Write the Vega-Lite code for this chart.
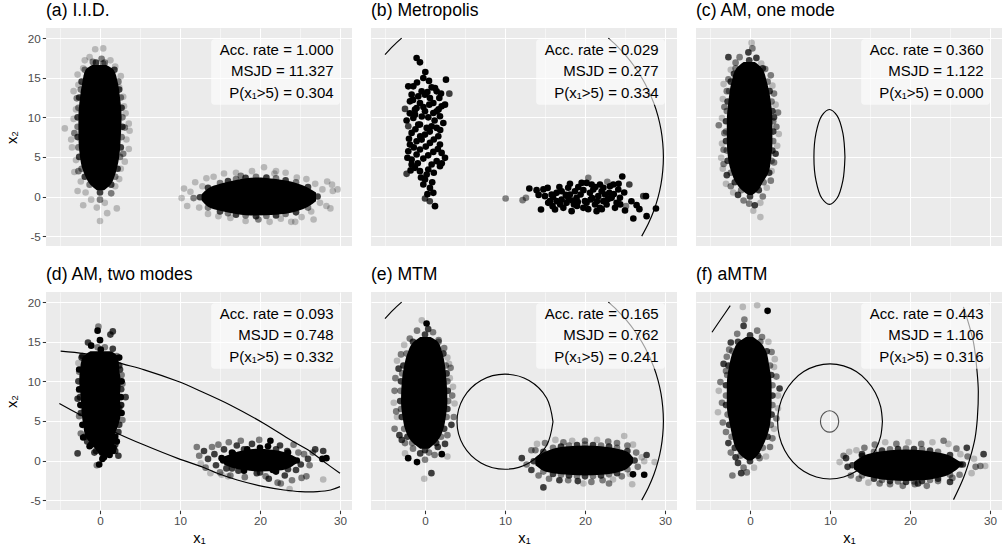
{
"$schema": "https://vega.github.io/schema/vega-lite/v6.json",
"padding": {"left": 4, "top": 2, "right": 0, "bottom": 0},
"background": "white",
"config": {"font": "Liberation Sans", "view": {"fill": "#EBEBEB", "stroke": null}},
"data": {"values": [
{"p":"a","k":"v","y":0.8,"lo":-0.4,"hi":0.5},{"p":"a","k":"v","y":1.5,"lo":-1.2,"hi":1.3},{"p":"a","k":"v","y":2.5,"lo":-1.8,"hi":1.8},{"p":"a","k":"v","y":3.5,"lo":-2.2,"hi":2.1},{"p":"a","k":"v","y":5.0,"lo":-2.5,"hi":2.4},{"p":"a","k":"v","y":7.5,"lo":-2.7,"hi":2.6},{"p":"a","k":"v","y":10.0,"lo":-2.7,"hi":2.7},{"p":"a","k":"v","y":12.5,"lo":-2.5,"hi":2.5},{"p":"a","k":"v","y":14.5,"lo":-2.2,"hi":2.2},{"p":"a","k":"v","y":16.0,"lo":-1.8,"hi":1.7},{"p":"a","k":"v","y":16.6,"lo":-1.0,"hi":0.8},
{"p":"a","k":"h","x":12.7,"lo":-0.5,"hi":0.3},{"p":"a","k":"h","x":13.5,"lo":-1.3,"hi":1.0},{"p":"a","k":"h","x":15.0,"lo":-1.8,"hi":1.6},{"p":"a","k":"h","x":17.0,"lo":-2.2,"hi":2.1},{"p":"a","k":"h","x":19.5,"lo":-2.4,"hi":2.4},{"p":"a","k":"h","x":22.0,"lo":-2.3,"hi":2.2},{"p":"a","k":"h","x":24.5,"lo":-1.9,"hi":1.7},{"p":"a","k":"h","x":26.0,"lo":-1.3,"hi":1.1},{"p":"a","k":"h","x":27.0,"lo":-0.6,"hi":0.5},
{"p":"c","k":"v","y":0.2,"lo":-0.2,"hi":0.3},{"p":"c","k":"v","y":0.8,"lo":-1.0,"hi":1.0},{"p":"c","k":"v","y":1.8,"lo":-1.8,"hi":1.6},{"p":"c","k":"v","y":3.0,"lo":-2.3,"hi":2.3},{"p":"c","k":"v","y":4.5,"lo":-2.7,"hi":2.6},{"p":"c","k":"v","y":7.0,"lo":-2.9,"hi":2.8},{"p":"c","k":"v","y":9.5,"lo":-2.9,"hi":2.8},{"p":"c","k":"v","y":12.0,"lo":-2.7,"hi":2.6},{"p":"c","k":"v","y":14.5,"lo":-2.3,"hi":2.1},{"p":"c","k":"v","y":16.2,"lo":-1.7,"hi":1.5},{"p":"c","k":"v","y":17.0,"lo":-0.8,"hi":0.6},
{"p":"d","k":"v","y":0.6,"lo":0.0,"hi":1.0},{"p":"d","k":"v","y":1.2,"lo":-0.4,"hi":1.5},{"p":"d","k":"v","y":2.0,"lo":-1.0,"hi":1.8},{"p":"d","k":"v","y":3.0,"lo":-1.8,"hi":1.8},{"p":"d","k":"v","y":4.5,"lo":-2.1,"hi":2.3},{"p":"d","k":"v","y":6.0,"lo":-2.3,"hi":2.6},{"p":"d","k":"v","y":8.0,"lo":-2.4,"hi":2.5},{"p":"d","k":"v","y":10.0,"lo":-2.6,"hi":2.6},{"p":"d","k":"v","y":11.5,"lo":-2.5,"hi":2.4},{"p":"d","k":"v","y":13.0,"lo":-2.2,"hi":2.3},{"p":"d","k":"v","y":13.8,"lo":-1.2,"hi":1.4},
{"p":"d","k":"h","x":15.5,"lo":-0.5,"hi":0.5},{"p":"d","k":"h","x":16.5,"lo":-0.9,"hi":0.9},{"p":"d","k":"h","x":18.0,"lo":-1.2,"hi":1.3},{"p":"d","k":"h","x":20.0,"lo":-1.4,"hi":1.5},{"p":"d","k":"h","x":22.0,"lo":-1.3,"hi":1.3},{"p":"d","k":"h","x":23.5,"lo":-1.0,"hi":0.9},{"p":"d","k":"h","x":24.5,"lo":-0.4,"hi":0.4},
{"p":"e","k":"v","y":1.5,"lo":-0.6,"hi":0.5},{"p":"e","k":"v","y":2.2,"lo":-1.5,"hi":1.3},{"p":"e","k":"v","y":3.0,"lo":-2.1,"hi":1.9},{"p":"e","k":"v","y":4.0,"lo":-2.5,"hi":2.3},{"p":"e","k":"v","y":5.5,"lo":-2.8,"hi":2.6},{"p":"e","k":"v","y":7.5,"lo":-3.0,"hi":2.8},{"p":"e","k":"v","y":10.0,"lo":-2.9,"hi":2.7},{"p":"e","k":"v","y":12.0,"lo":-2.6,"hi":2.5},{"p":"e","k":"v","y":13.5,"lo":-2.2,"hi":2.2},{"p":"e","k":"v","y":15.0,"lo":-1.4,"hi":1.6},{"p":"e","k":"v","y":15.6,"lo":-0.6,"hi":0.7},
{"p":"e","k":"h","x":13.8,"lo":-0.6,"hi":0.4},{"p":"e","k":"h","x":14.8,"lo":-1.3,"hi":1.0},{"p":"e","k":"h","x":16.0,"lo":-1.6,"hi":1.5},{"p":"e","k":"h","x":18.0,"lo":-1.8,"hi":1.8},{"p":"e","k":"h","x":20.0,"lo":-1.9,"hi":1.9},{"p":"e","k":"h","x":22.0,"lo":-1.8,"hi":1.8},{"p":"e","k":"h","x":24.0,"lo":-1.5,"hi":1.5},{"p":"e","k":"h","x":25.3,"lo":-1.0,"hi":1.1},{"p":"e","k":"h","x":26.0,"lo":-0.3,"hi":0.4},
{"p":"f","k":"v","y":0.0,"lo":-0.3,"hi":0.2},{"p":"f","k":"v","y":0.6,"lo":-1.1,"hi":0.9},{"p":"f","k":"v","y":1.6,"lo":-1.8,"hi":1.5},{"p":"f","k":"v","y":3.0,"lo":-2.2,"hi":2.1},{"p":"f","k":"v","y":4.5,"lo":-2.5,"hi":2.5},{"p":"f","k":"v","y":7.0,"lo":-2.9,"hi":2.7},{"p":"f","k":"v","y":9.5,"lo":-2.9,"hi":2.7},{"p":"f","k":"v","y":12.0,"lo":-2.6,"hi":2.4},{"p":"f","k":"v","y":13.8,"lo":-2.1,"hi":2.0},{"p":"f","k":"v","y":15.0,"lo":-1.4,"hi":1.2},{"p":"f","k":"v","y":15.6,"lo":-0.5,"hi":0.4},
{"p":"f","k":"h","x":13.0,"lo":-1.1,"hi":-0.2},{"p":"f","k":"h","x":14.0,"lo":-1.8,"hi":0.5},{"p":"f","k":"h","x":15.5,"lo":-2.2,"hi":1.0},{"p":"f","k":"h","x":17.5,"lo":-2.5,"hi":1.3},{"p":"f","k":"h","x":19.5,"lo":-2.6,"hi":1.4},{"p":"f","k":"h","x":21.5,"lo":-2.5,"hi":1.3},{"p":"f","k":"h","x":23.5,"lo":-2.2,"hi":1.0},{"p":"f","k":"h","x":25.0,"lo":-1.7,"hi":0.6},{"p":"f","k":"h","x":26.0,"lo":-1.0,"hi":0.0},{"p":"f","k":"h","x":26.5,"lo":-0.5,"hi":-0.3},

{"p":"a","k":"p","x":0.0,"y":0.5,"r":3},{"p":"a","k":"p","x":-1.3,"y":1.5,"r":2},{"p":"a","k":"p","x":1.4,"y":1.5,"r":3},{"p":"a","k":"p","x":-1.9,"y":2.5,"r":3},{"p":"a","k":"p","x":1.9,"y":2.5,"r":2},{"p":"a","k":"p","x":-2.3,"y":3.5,"r":2},{"p":"a","k":"p","x":2.2,"y":3.5,"r":3},{"p":"a","k":"p","x":-2.6,"y":5.0,"r":3},{"p":"a","k":"p","x":2.5,"y":5.0,"r":2},{"p":"a","k":"p","x":-2.7,"y":6.2,"r":2},{"p":"a","k":"p","x":2.6,"y":6.2,"r":3},{"p":"a","k":"p","x":-2.8,"y":7.5,"r":3},{"p":"a","k":"p","x":2.7,"y":7.5,"r":2},{"p":"a","k":"p","x":-2.8,"y":8.8,"r":2},{"p":"a","k":"p","x":2.8,"y":8.8,"r":3},{"p":"a","k":"p","x":-2.8,"y":10.0,"r":3},{"p":"a","k":"p","x":2.8,"y":10.0,"r":2},{"p":"a","k":"p","x":-2.7,"y":11.2,"r":2},{"p":"a","k":"p","x":2.7,"y":11.2,"r":3},{"p":"a","k":"p","x":-2.6,"y":12.5,"r":3},{"p":"a","k":"p","x":2.6,"y":12.5,"r":2},{"p":"a","k":"p","x":-2.4,"y":13.5,"r":2},{"p":"a","k":"p","x":2.4,"y":13.5,"r":3},{"p":"a","k":"p","x":-2.3,"y":14.5,"r":3},{"p":"a","k":"p","x":2.3,"y":14.5,"r":2},{"p":"a","k":"p","x":-1.9,"y":16.0,"r":2},{"p":"a","k":"p","x":1.8,"y":16.0,"r":3},{"p":"a","k":"p","x":-0.5,"y":16.9,"r":3},{"p":"a","k":"p","x":0.4,"y":16.8,"r":2},
{"p":"a","k":"p","x":12.5,"y":-0.1,"r":3},{"p":"a","k":"p","x":13.5,"y":-1.4,"r":2},{"p":"a","k":"p","x":13.5,"y":1.1,"r":3},{"p":"a","k":"p","x":15.0,"y":-1.9,"r":3},{"p":"a","k":"p","x":15.0,"y":1.7,"r":2},{"p":"a","k":"p","x":16.0,"y":-2.1,"r":2},{"p":"a","k":"p","x":16.0,"y":1.95,"r":3},{"p":"a","k":"p","x":17.0,"y":-2.3,"r":3},{"p":"a","k":"p","x":17.0,"y":2.2,"r":2},{"p":"a","k":"p","x":18.2,"y":-2.4,"r":2},{"p":"a","k":"p","x":18.2,"y":2.35,"r":3},{"p":"a","k":"p","x":19.5,"y":-2.5,"r":3},{"p":"a","k":"p","x":19.5,"y":2.5,"r":2},{"p":"a","k":"p","x":20.8,"y":-2.45,"r":2},{"p":"a","k":"p","x":20.8,"y":2.4,"r":3},{"p":"a","k":"p","x":22.0,"y":-2.4,"r":3},{"p":"a","k":"p","x":22.0,"y":2.3,"r":2},{"p":"a","k":"p","x":23.2,"y":-2.2,"r":2},{"p":"a","k":"p","x":23.2,"y":2.05,"r":3},{"p":"a","k":"p","x":24.5,"y":-2.0,"r":3},{"p":"a","k":"p","x":24.5,"y":1.8,"r":2},{"p":"a","k":"p","x":26.0,"y":-1.4,"r":2},{"p":"a","k":"p","x":26.0,"y":1.2,"r":3},{"p":"a","k":"p","x":27.2,"y":0.0,"r":3},
{"p":"a","k":"p","x":-0.6,"y":18.6,"r":1},{"p":"a","k":"p","x":0.4,"y":18.7,"r":1},{"p":"a","k":"p","x":-1.3,"y":17.6,"r":1},{"p":"a","k":"p","x":0.2,"y":17.4,"r":2},{"p":"a","k":"p","x":1.3,"y":17.2,"r":1},{"p":"a","k":"p","x":-0.9,"y":17.0,"r":2},{"p":"a","k":"p","x":0.6,"y":16.9,"r":2},{"p":"a","k":"p","x":1.9,"y":16.4,"r":1},{"p":"a","k":"p","x":-2.1,"y":16.2,"r":1},{"p":"a","k":"p","x":-1.6,"y":15.3,"r":2},{"p":"a","k":"p","x":2.6,"y":15.2,"r":1},{"p":"a","k":"p","x":2.4,"y":13.8,"r":1},{"p":"a","k":"p","x":2.9,"y":12.6,"r":1},{"p":"a","k":"p","x":3.0,"y":11.4,"r":1},{"p":"a","k":"p","x":3.2,"y":10.5,"r":1},{"p":"a","k":"p","x":3.6,"y":9.2,"r":1},{"p":"a","k":"p","x":3.1,"y":8.7,"r":2},{"p":"a","k":"p","x":3.7,"y":8.3,"r":1},{"p":"a","k":"p","x":3.3,"y":7.2,"r":1},{"p":"a","k":"p","x":3.6,"y":6.0,"r":1},{"p":"a","k":"p","x":2.9,"y":5.4,"r":2},{"p":"a","k":"p","x":3.1,"y":4.4,"r":1},{"p":"a","k":"p","x":2.6,"y":3.5,"r":1},{"p":"a","k":"p","x":2.4,"y":2.2,"r":1},{"p":"a","k":"p","x":1.9,"y":1.3,"r":1},{"p":"a","k":"p","x":1.4,"y":0.4,"r":2},{"p":"a","k":"p","x":2.1,"y":-1.5,"r":1},{"p":"a","k":"p","x":0.9,"y":-2.1,"r":1},{"p":"a","k":"p","x":0.6,"y":-0.8,"r":1},{"p":"a","k":"p","x":0.0,"y":-0.4,"r":2},{"p":"a","k":"p","x":0.0,"y":-3.1,"r":1},{"p":"a","k":"p","x":-0.4,"y":-1.4,"r":1},{"p":"a","k":"p","x":-1.1,"y":-0.4,"r":1},{"p":"a","k":"p","x":-2.1,"y":-1.1,"r":1},{"p":"a","k":"p","x":-1.8,"y":0.5,"r":1},{"p":"a","k":"p","x":-2.8,"y":0.7,"r":1},{"p":"a","k":"p","x":-2.4,"y":1.9,"r":1},{"p":"a","k":"p","x":-3.2,"y":3.1,"r":1},{"p":"a","k":"p","x":-2.7,"y":3.2,"r":2},{"p":"a","k":"p","x":-3.0,"y":4.6,"r":1},{"p":"a","k":"p","x":-3.5,"y":6.2,"r":1},{"p":"a","k":"p","x":-3.6,"y":7.2,"r":1},{"p":"a","k":"p","x":-4.4,"y":8.6,"r":1},{"p":"a","k":"p","x":-3.2,"y":8.0,"r":2},{"p":"a","k":"p","x":-3.3,"y":9.8,"r":1},{"p":"a","k":"p","x":-3.0,"y":11.0,"r":1},{"p":"a","k":"p","x":-2.9,"y":12.4,"r":2},{"p":"a","k":"p","x":-3.3,"y":13.3,"r":1},{"p":"a","k":"p","x":-2.7,"y":14.1,"r":1},{"p":"a","k":"p","x":-2.8,"y":15.4,"r":1},{"p":"a","k":"p","x":-1.9,"y":17.2,"r":1},
{"p":"a","k":"p","x":10.2,"y":-0.2,"r":1},{"p":"a","k":"p","x":10.5,"y":1.0,"r":1},{"p":"a","k":"p","x":10.9,"y":-1.2,"r":1},{"p":"a","k":"p","x":11.3,"y":0.6,"r":1},{"p":"a","k":"p","x":11.7,"y":-0.2,"r":2},{"p":"a","k":"p","x":11.9,"y":1.8,"r":1},{"p":"a","k":"p","x":12.4,"y":-1.4,"r":1},{"p":"a","k":"p","x":12.8,"y":1.3,"r":1},{"p":"a","k":"p","x":13.3,"y":2.3,"r":1},{"p":"a","k":"p","x":13.5,"y":-2.2,"r":1},{"p":"a","k":"p","x":14.2,"y":2.5,"r":1},{"p":"a","k":"p","x":14.8,"y":-2.5,"r":1},{"p":"a","k":"p","x":15.5,"y":2.9,"r":1},{"p":"a","k":"p","x":16.3,"y":-2.7,"r":1},{"p":"a","k":"p","x":17.0,"y":3.0,"r":1},{"p":"a","k":"p","x":17.6,"y":2.6,"r":2},{"p":"a","k":"p","x":18.2,"y":-3.1,"r":1},{"p":"a","k":"p","x":19.0,"y":3.2,"r":1},{"p":"a","k":"p","x":19.8,"y":-2.9,"r":2},{"p":"a","k":"p","x":20.5,"y":3.7,"r":1},{"p":"a","k":"p","x":21.2,"y":-3.2,"r":1},{"p":"a","k":"p","x":21.8,"y":2.9,"r":1},{"p":"a","k":"p","x":22.6,"y":-2.8,"r":1},{"p":"a","k":"p","x":23.2,"y":3.0,"r":1},{"p":"a","k":"p","x":23.9,"y":-3.2,"r":1},{"p":"a","k":"p","x":24.6,"y":2.4,"r":1},{"p":"a","k":"p","x":25.2,"y":-2.6,"r":1},{"p":"a","k":"p","x":25.8,"y":2.2,"r":1},{"p":"a","k":"p","x":26.4,"y":-1.9,"r":1},{"p":"a","k":"p","x":26.9,"y":1.6,"r":1},{"p":"a","k":"p","x":27.5,"y":-0.8,"r":1},{"p":"a","k":"p","x":27.8,"y":0.9,"r":1},{"p":"a","k":"p","x":28.3,"y":-1.2,"r":1},{"p":"a","k":"p","x":28.4,"y":1.9,"r":1},{"p":"a","k":"p","x":29.1,"y":0.7,"r":1},{"p":"a","k":"p","x":29.0,"y":1.5,"r":1},{"p":"a","k":"p","x":29.7,"y":0.9,"r":1},{"p":"a","k":"p","x":28.8,"y":-1.5,"r":1},{"p":"a","k":"p","x":26.7,"y":-2.9,"r":1},{"p":"a","k":"p","x":24.4,"y":-3.2,"r":1},{"p":"a","k":"p","x":22.0,"y":3.2,"r":1},

{"p":"b","k":"p","x":-1.05,"y":17.49,"r":4},{"p":"b","k":"p","x":-0.63,"y":16.94,"r":4},{"p":"b","k":"p","x":0.04,"y":15.72,"r":4},{"p":"b","k":"p","x":-0.21,"y":14.97,"r":4},{"p":"b","k":"p","x":2.62,"y":14.76,"r":4},{"p":"b","k":"p","x":-2.09,"y":13.91,"r":4},{"p":"b","k":"p","x":-1.46,"y":13.91,"r":4},{"p":"b","k":"p","x":0.83,"y":13.79,"r":4},{"p":"b","k":"p","x":1.25,"y":13.7,"r":4},{"p":"b","k":"p","x":3.04,"y":12.99,"r":3},{"p":"b","k":"p","x":-1.67,"y":12.86,"r":4},{"p":"b","k":"p","x":-0.84,"y":12.65,"r":4},{"p":"b","k":"p","x":0.0,"y":12.86,"r":4},{"p":"b","k":"p","x":0.62,"y":12.44,"r":4},{"p":"b","k":"p","x":1.79,"y":12.44,"r":4},{"p":"b","k":"p","x":-1.88,"y":12.02,"r":4},{"p":"b","k":"p","x":-0.63,"y":11.81,"r":4},{"p":"b","k":"p","x":1.04,"y":11.81,"r":4},{"p":"b","k":"p","x":2.5,"y":11.6,"r":4},{"p":"b","k":"p","x":-2.5,"y":11.06,"r":3},{"p":"b","k":"p","x":-1.25,"y":10.97,"r":4},{"p":"b","k":"p","x":0.0,"y":10.76,"r":4},{"p":"b","k":"p","x":1.46,"y":10.76,"r":4},{"p":"b","k":"p","x":-1.46,"y":9.92,"r":4},{"p":"b","k":"p","x":0.41,"y":10.0,"r":4},{"p":"b","k":"p","x":1.87,"y":10.13,"r":4},{"p":"b","k":"p","x":-2.09,"y":8.87,"r":3},{"p":"b","k":"p","x":-0.63,"y":9.08,"r":4},{"p":"b","k":"p","x":0.83,"y":8.87,"r":4},{"p":"b","k":"p","x":2.29,"y":9.29,"r":4},{"p":"b","k":"p","x":-1.67,"y":8.03,"r":4},{"p":"b","k":"p","x":0.0,"y":7.82,"r":4},{"p":"b","k":"p","x":1.66,"y":7.61,"r":4},{"p":"b","k":"p","x":-1.05,"y":6.98,"r":4},{"p":"b","k":"p","x":0.62,"y":6.77,"r":4},{"p":"b","k":"p","x":1.87,"y":6.56,"r":4},{"p":"b","k":"p","x":-2.09,"y":5.72,"r":4},{"p":"b","k":"p","x":-0.63,"y":5.93,"r":4},{"p":"b","k":"p","x":1.04,"y":5.63,"r":4},{"p":"b","k":"p","x":2.5,"y":4.88,"r":4},{"p":"b","k":"p","x":-1.67,"y":4.67,"r":4},{"p":"b","k":"p","x":-0.21,"y":4.79,"r":4},{"p":"b","k":"p","x":1.46,"y":4.46,"r":4},{"p":"b","k":"p","x":-2.3,"y":2.86,"r":3},{"p":"b","k":"p","x":-1.25,"y":3.62,"r":4},{"p":"b","k":"p","x":0.41,"y":3.41,"r":4},{"p":"b","k":"p","x":1.87,"y":3.83,"r":4},{"p":"b","k":"p","x":0.0,"y":2.14,"r":4},{"p":"b","k":"p","x":0.62,"y":1.09,"r":4},{"p":"b","k":"p","x":1.04,"y":0.46,"r":4},{"p":"b","k":"p","x":0.0,"y":-0.25,"r":3},{"p":"b","k":"p","x":1.25,"y":-1.22,"r":4},{"p":"b","k":"p","x":-0.63,"y":3.2,"r":4},{"p":"b","k":"p","x":-1.05,"y":5.3,"r":4},{"p":"b","k":"p","x":0.21,"y":8.66,"r":4},{"p":"b","k":"p","x":-1.25,"y":10.34,"r":4},{"p":"b","k":"p","x":-0.42,"y":13.28,"r":4},{"p":"b","k":"p","x":1.46,"y":13.28,"r":4},{"p":"b","k":"p","x":2.08,"y":11.39,"r":4},{"p":"b","k":"p","x":-1.88,"y":6.56,"r":4},{"p":"b","k":"p","x":0.83,"y":4.04,"r":4},{"p":"b","k":"p","x":-0.21,"y":1.51,"r":4},{"p":"b","k":"p","x":0.21,"y":2.77,"r":4},{"p":"b","k":"p","x":-1.05,"y":11.18,"r":4},{"p":"b","k":"p","x":1.46,"y":8.66,"r":4},{"p":"b","k":"p","x":2.08,"y":5.51,"r":4},{"p":"b","k":"p","x":-1.67,"y":4.04,"r":4},{"p":"b","k":"p","x":-0.42,"y":7.19,"r":4},{"p":"b","k":"p","x":1.04,"y":10.55,"r":4},{"p":"b","k":"p","x":0.54,"y":11.6,"r":4},{"p":"b","k":"p","x":-0.84,"y":9.08,"r":4},
{"p":"b","k":"p","x":-1.5,"y":12.2,"r":4},{"p":"b","k":"p","x":0.3,"y":13.2,"r":4},{"p":"b","k":"p","x":-0.2,"y":11.3,"r":4},{"p":"b","k":"p","x":1.7,"y":11.0,"r":4},{"p":"b","k":"p","x":-1.9,"y":10.5,"r":4},{"p":"b","k":"p","x":-0.4,"y":10.1,"r":4},{"p":"b","k":"p","x":1.2,"y":9.6,"r":4},{"p":"b","k":"p","x":-1.2,"y":8.5,"r":4},{"p":"b","k":"p","x":0.6,"y":8.2,"r":4},{"p":"b","k":"p","x":1.9,"y":8.4,"r":4},{"p":"b","k":"p","x":-2.0,"y":7.3,"r":4},{"p":"b","k":"p","x":-0.6,"y":7.6,"r":4},{"p":"b","k":"p","x":1.1,"y":7.2,"r":4},{"p":"b","k":"p","x":-1.4,"y":6.2,"r":4},{"p":"b","k":"p","x":0.1,"y":6.3,"r":4},{"p":"b","k":"p","x":1.6,"y":6.0,"r":4},{"p":"b","k":"p","x":-2.2,"y":4.9,"r":4},{"p":"b","k":"p","x":0.4,"y":5.2,"r":4},{"p":"b","k":"p","x":2.1,"y":4.2,"r":4},{"p":"b","k":"p","x":-0.9,"y":4.2,"r":4},{"p":"b","k":"p","x":-1.8,"y":3.3,"r":4},{"p":"b","k":"p","x":1.1,"y":3.0,"r":4},{"p":"b","k":"p","x":-0.5,"y":2.4,"r":4},{"p":"b","k":"p","x":0.9,"y":1.8,"r":4},{"p":"b","k":"p","x":0.3,"y":0.3,"r":4},{"p":"b","k":"p","x":0.6,"y":-0.6,"r":3},{"p":"b","k":"p","x":-1.0,"y":14.4,"r":4},{"p":"b","k":"p","x":0.5,"y":14.6,"r":4},{"p":"b","k":"p","x":2.0,"y":13.0,"r":4},{"p":"b","k":"p","x":-2.3,"y":9.6,"r":4},
{"p":"b","k":"p","x":10.08,"y":-0.25,"r":2},{"p":"b","k":"p","x":12.2,"y":-0.46,"r":2},{"p":"b","k":"p","x":12.62,"y":-0.17,"r":2},{"p":"b","k":"p","x":13.04,"y":1.01,"r":4},{"p":"b","k":"p","x":13.95,"y":0.8,"r":4},{"p":"b","k":"p","x":14.5,"y":-1.64,"r":4},{"p":"b","k":"p","x":15.0,"y":0.04,"r":4},{"p":"b","k":"p","x":15.33,"y":1.09,"r":4},{"p":"b","k":"p","x":15.83,"y":0.25,"r":4},{"p":"b","k":"p","x":15.95,"y":-1.22,"r":4},{"p":"b","k":"p","x":16.45,"y":-0.59,"r":4},{"p":"b","k":"p","x":17.08,"y":0.67,"r":4},{"p":"b","k":"p","x":17.29,"y":-1.43,"r":4},{"p":"b","k":"p","x":17.91,"y":-0.17,"r":4},{"p":"b","k":"p","x":18.12,"y":1.6,"r":4},{"p":"b","k":"p","x":18.62,"y":-1.01,"r":4},{"p":"b","k":"p","x":19.16,"y":1.18,"r":4},{"p":"b","k":"p","x":19.45,"y":0.25,"r":4},{"p":"b","k":"p","x":19.79,"y":-1.43,"r":4},{"p":"b","k":"p","x":20.2,"y":1.72,"r":4},{"p":"b","k":"p","x":20.41,"y":2.36,"r":2},{"p":"b","k":"p","x":20.7,"y":-0.38,"r":4},{"p":"b","k":"p","x":21.04,"y":0.88,"r":4},{"p":"b","k":"p","x":21.45,"y":-1.85,"r":4},{"p":"b","k":"p","x":21.87,"y":1.51,"r":4},{"p":"b","k":"p","x":22.29,"y":-0.59,"r":4},{"p":"b","k":"p","x":22.79,"y":1.85,"r":2},{"p":"b","k":"p","x":23.04,"y":0.46,"r":4},{"p":"b","k":"p","x":23.54,"y":1.51,"r":4},{"p":"b","k":"p","x":23.75,"y":-1.43,"r":4},{"p":"b","k":"p","x":24.16,"y":0.88,"r":4},{"p":"b","k":"p","x":24.66,"y":2.52,"r":4},{"p":"b","k":"p","x":25.0,"y":-1.77,"r":4},{"p":"b","k":"p","x":25.12,"y":-1.22,"r":2},{"p":"b","k":"p","x":25.54,"y":1.51,"r":3},{"p":"b","k":"p","x":26.04,"y":-2.77,"r":4},{"p":"b","k":"p","x":26.45,"y":-1.09,"r":4},{"p":"b","k":"p","x":27.29,"y":0.04,"r":3},{"p":"b","k":"p","x":27.62,"y":0.04,"r":4},{"p":"b","k":"p","x":27.7,"y":-2.48,"r":4},{"p":"b","k":"p","x":28.87,"y":-1.51,"r":4},{"p":"b","k":"p","x":17.7,"y":-0.8,"r":4},{"p":"b","k":"p","x":18.95,"y":-0.17,"r":4},{"p":"b","k":"p","x":20.0,"y":-0.59,"r":4},{"p":"b","k":"p","x":20.62,"y":0.46,"r":4},{"p":"b","k":"p","x":21.66,"y":0.04,"r":4},{"p":"b","k":"p","x":22.7,"y":-1.01,"r":4},{"p":"b","k":"p","x":23.33,"y":-0.17,"r":4},{"p":"b","k":"p","x":23.95,"y":-0.8,"r":4},{"p":"b","k":"p","x":16.45,"y":0.46,"r":4},{"p":"b","k":"p","x":18.74,"y":0.67,"r":4},{"p":"b","k":"p","x":20.2,"y":-0.8,"r":4},{"p":"b","k":"p","x":22.08,"y":0.67,"r":4},{"p":"b","k":"p","x":16.25,"y":-1.64,"r":4},{"p":"b","k":"p","x":18.33,"y":-1.85,"r":4},{"p":"b","k":"p","x":21.25,"y":-1.01,"r":4},{"p":"b","k":"p","x":22.5,"y":0.25,"r":4},{"p":"b","k":"p","x":24.37,"y":-0.17,"r":4},{"p":"b","k":"p","x":17.08,"y":-0.38,"r":4},{"p":"b","k":"p","x":19.58,"y":1.72,"r":4},{"p":"b","k":"p","x":21.87,"y":-1.43,"r":4},{"p":"b","k":"p","x":23.12,"y":1.3,"r":4},{"p":"b","k":"p","x":15.62,"y":-0.59,"r":4},{"p":"b","k":"p","x":18.12,"y":0.25,"r":4},{"p":"b","k":"p","x":20.83,"y":1.51,"r":4},
{"p":"b","k":"p","x":14.2,"y":0.2,"r":4},{"p":"b","k":"p","x":15.4,"y":-0.8,"r":4},{"p":"b","k":"p","x":16.8,"y":1.2,"r":4},{"p":"b","k":"p","x":16.0,"y":-0.1,"r":4},{"p":"b","k":"p","x":17.6,"y":0.2,"r":4},{"p":"b","k":"p","x":18.4,"y":-0.5,"r":4},{"p":"b","k":"p","x":19.0,"y":-1.2,"r":4},{"p":"b","k":"p","x":19.8,"y":0.8,"r":4},{"p":"b","k":"p","x":20.4,"y":-1.6,"r":4},{"p":"b","k":"p","x":21.3,"y":1.2,"r":4},{"p":"b","k":"p","x":21.5,"y":-0.6,"r":4},{"p":"b","k":"p","x":22.3,"y":1.1,"r":4},{"p":"b","k":"p","x":22.9,"y":-0.3,"r":4},{"p":"b","k":"p","x":23.6,"y":0.3,"r":4},{"p":"b","k":"p","x":24.4,"y":-1.0,"r":4},{"p":"b","k":"p","x":24.9,"y":0.5,"r":4},{"p":"b","k":"p","x":25.8,"y":-0.6,"r":4},{"p":"b","k":"p","x":19.1,"y":-0.7,"r":4},{"p":"b","k":"p","x":20.9,"y":-0.2,"r":4},{"p":"b","k":"p","x":17.9,"y":1.1,"r":4},{"p":"b","k":"p","x":16.9,"y":-1.0,"r":4},{"p":"b","k":"p","x":22.1,"y":-1.6,"r":4},{"p":"b","k":"p","x":24.2,"y":1.6,"r":4},{"p":"b","k":"p","x":26.8,"y":-1.6,"r":4},{"p":"b","k":"p","x":14.8,"y":0.9,"r":4},

{"p":"c","k":"p","x":0.0,"y":0.0,"r":3},{"p":"c","k":"p","x":-1.1,"y":0.8,"r":2},{"p":"c","k":"p","x":1.1,"y":0.8,"r":3},{"p":"c","k":"p","x":-1.9,"y":1.8,"r":3},{"p":"c","k":"p","x":1.7,"y":1.8,"r":2},{"p":"c","k":"p","x":-2.4,"y":3.0,"r":2},{"p":"c","k":"p","x":2.4,"y":3.0,"r":3},{"p":"c","k":"p","x":-2.8,"y":4.5,"r":3},{"p":"c","k":"p","x":2.7,"y":4.5,"r":2},{"p":"c","k":"p","x":-2.9,"y":5.8,"r":2},{"p":"c","k":"p","x":2.8,"y":5.8,"r":3},{"p":"c","k":"p","x":-3.0,"y":7.0,"r":3},{"p":"c","k":"p","x":2.9,"y":7.0,"r":2},{"p":"c","k":"p","x":-3.0,"y":8.2,"r":2},{"p":"c","k":"p","x":2.9,"y":8.2,"r":3},{"p":"c","k":"p","x":-3.0,"y":9.5,"r":3},{"p":"c","k":"p","x":2.9,"y":9.5,"r":2},{"p":"c","k":"p","x":-2.9,"y":10.8,"r":2},{"p":"c","k":"p","x":2.8,"y":10.8,"r":3},{"p":"c","k":"p","x":-2.8,"y":12.0,"r":3},{"p":"c","k":"p","x":2.7,"y":12.0,"r":2},{"p":"c","k":"p","x":-2.6,"y":13.3,"r":2},{"p":"c","k":"p","x":2.45,"y":13.3,"r":3},{"p":"c","k":"p","x":-2.4,"y":14.5,"r":3},{"p":"c","k":"p","x":2.2,"y":14.5,"r":2},{"p":"c","k":"p","x":-1.8,"y":16.2,"r":2},{"p":"c","k":"p","x":1.6,"y":16.2,"r":3},{"p":"c","k":"p","x":-0.1,"y":17.2,"r":3},
{"p":"c","k":"p","x":0.2,"y":19.4,"r":1},{"p":"c","k":"p","x":0.3,"y":18.7,"r":2},{"p":"c","k":"p","x":-0.2,"y":18.2,"r":3},{"p":"c","k":"p","x":-1.3,"y":17.6,"r":2},{"p":"c","k":"p","x":0.8,"y":17.5,"r":3},{"p":"c","k":"p","x":-2.7,"y":17.6,"r":3},{"p":"c","k":"p","x":-1.8,"y":16.9,"r":2},{"p":"c","k":"p","x":1.4,"y":16.8,"r":1},{"p":"c","k":"p","x":1.9,"y":16.1,"r":2},{"p":"c","k":"p","x":-2.4,"y":16.0,"r":1},{"p":"c","k":"p","x":-2.0,"y":15.5,"r":3},{"p":"c","k":"p","x":2.6,"y":15.3,"r":2},{"p":"c","k":"p","x":2.8,"y":14.0,"r":1},{"p":"c","k":"p","x":3.0,"y":13.0,"r":2},{"p":"c","k":"p","x":3.2,"y":11.6,"r":1},{"p":"c","k":"p","x":3.5,"y":10.6,"r":2},{"p":"c","k":"p","x":3.0,"y":10.0,"r":3},{"p":"c","k":"p","x":3.6,"y":7.9,"r":1},{"p":"c","k":"p","x":3.3,"y":8.8,"r":2},{"p":"c","k":"p","x":3.4,"y":6.4,"r":1},{"p":"c","k":"p","x":3.2,"y":5.4,"r":3},{"p":"c","k":"p","x":3.0,"y":4.3,"r":2},{"p":"c","k":"p","x":2.7,"y":3.2,"r":1},{"p":"c","k":"p","x":2.6,"y":2.0,"r":2},{"p":"c","k":"p","x":2.1,"y":1.1,"r":1},{"p":"c","k":"p","x":1.6,"y":0.0,"r":2},{"p":"c","k":"p","x":1.3,"y":-0.8,"r":1},{"p":"c","k":"p","x":1.3,"y":-2.6,"r":1},{"p":"c","k":"p","x":0.4,"y":-1.8,"r":1},{"p":"c","k":"p","x":0.6,"y":-1.1,"r":3},{"p":"c","k":"p","x":-0.1,"y":-0.9,"r":2},{"p":"c","k":"p","x":-0.8,"y":-0.5,"r":2},{"p":"c","k":"p","x":-1.5,"y":0.2,"r":3},{"p":"c","k":"p","x":-2.1,"y":0.5,"r":1},{"p":"c","k":"p","x":-2.4,"y":1.3,"r":2},{"p":"c","k":"p","x":-3.0,"y":1.6,"r":1},{"p":"c","k":"p","x":-2.9,"y":2.7,"r":3},{"p":"c","k":"p","x":-3.4,"y":3.5,"r":1},{"p":"c","k":"p","x":-3.3,"y":4.1,"r":2},{"p":"c","k":"p","x":-3.6,"y":4.9,"r":1},{"p":"c","k":"p","x":-3.3,"y":5.9,"r":2},{"p":"c","k":"p","x":-3.5,"y":6.7,"r":1},{"p":"c","k":"p","x":-3.2,"y":8.0,"r":2},{"p":"c","k":"p","x":-3.9,"y":9.0,"r":2},{"p":"c","k":"p","x":-3.5,"y":9.9,"r":1},{"p":"c","k":"p","x":-3.2,"y":11.3,"r":2},{"p":"c","k":"p","x":-3.4,"y":12.3,"r":1},{"p":"c","k":"p","x":-2.9,"y":13.3,"r":2},{"p":"c","k":"p","x":-3.3,"y":14.2,"r":1},{"p":"c","k":"p","x":-2.7,"y":14.8,"r":2},

{"p":"d","k":"p","x":0.5,"y":0.4,"r":4},{"p":"d","k":"p","x":-0.5,"y":1.2,"r":3},{"p":"d","k":"p","x":1.6,"y":1.2,"r":4},{"p":"d","k":"p","x":-1.1,"y":2.0,"r":4},{"p":"d","k":"p","x":1.9,"y":2.0,"r":3},{"p":"d","k":"p","x":-1.9,"y":3.0,"r":3},{"p":"d","k":"p","x":1.9,"y":3.0,"r":4},{"p":"d","k":"p","x":-2.2,"y":4.5,"r":4},{"p":"d","k":"p","x":2.4,"y":4.5,"r":3},{"p":"d","k":"p","x":-2.4,"y":6.0,"r":3},{"p":"d","k":"p","x":2.7,"y":6.0,"r":4},{"p":"d","k":"p","x":-2.45,"y":7.0,"r":4},{"p":"d","k":"p","x":2.65,"y":7.0,"r":3},{"p":"d","k":"p","x":-2.5,"y":8.0,"r":3},{"p":"d","k":"p","x":2.6,"y":8.0,"r":4},{"p":"d","k":"p","x":-2.6,"y":9.0,"r":4},{"p":"d","k":"p","x":2.65,"y":9.0,"r":3},{"p":"d","k":"p","x":-2.7,"y":10.0,"r":3},{"p":"d","k":"p","x":2.7,"y":10.0,"r":4},{"p":"d","k":"p","x":-2.6,"y":11.5,"r":4},{"p":"d","k":"p","x":2.5,"y":11.5,"r":3},{"p":"d","k":"p","x":-2.3,"y":13.0,"r":3},{"p":"d","k":"p","x":2.4,"y":13.0,"r":4},{"p":"d","k":"p","x":0.1,"y":14.0,"r":4},
{"p":"d","k":"p","x":15.4,"y":0.0,"r":4},{"p":"d","k":"p","x":16.5,"y":-1.0,"r":3},{"p":"d","k":"p","x":16.5,"y":1.0,"r":4},{"p":"d","k":"p","x":18.0,"y":-1.3,"r":4},{"p":"d","k":"p","x":18.0,"y":1.4,"r":3},{"p":"d","k":"p","x":20.0,"y":-1.5,"r":3},{"p":"d","k":"p","x":20.0,"y":1.6,"r":4},{"p":"d","k":"p","x":22.0,"y":-1.4,"r":4},{"p":"d","k":"p","x":22.0,"y":1.4,"r":3},{"p":"d","k":"p","x":23.5,"y":-1.1,"r":3},{"p":"d","k":"p","x":23.5,"y":1.0,"r":4},{"p":"d","k":"p","x":24.6,"y":0.0,"r":4},
{"p":"d","k":"p","x":-0.2,"y":16.9,"r":2},{"p":"d","k":"p","x":-0.3,"y":16.4,"r":4},{"p":"d","k":"p","x":1.6,"y":16.3,"r":3},{"p":"d","k":"p","x":1.3,"y":15.9,"r":3},{"p":"d","k":"p","x":0.0,"y":15.2,"r":4},{"p":"d","k":"p","x":-1.5,"y":14.9,"r":3},{"p":"d","k":"p","x":-1.1,"y":14.5,"r":4},{"p":"d","k":"p","x":-0.3,"y":14.3,"r":2},{"p":"d","k":"p","x":0.6,"y":14.3,"r":2},{"p":"d","k":"p","x":1.6,"y":14.1,"r":3},{"p":"d","k":"p","x":-2.2,"y":13.2,"r":3},{"p":"d","k":"p","x":2.1,"y":13.2,"r":2},{"p":"d","k":"p","x":2.4,"y":12.0,"r":3},{"p":"d","k":"p","x":-2.7,"y":12.3,"r":1},{"p":"d","k":"p","x":-2.6,"y":11.2,"r":2},{"p":"d","k":"p","x":2.7,"y":10.8,"r":2},{"p":"d","k":"p","x":2.8,"y":9.7,"r":2},{"p":"d","k":"p","x":3.2,"y":8.0,"r":3},{"p":"d","k":"p","x":-2.8,"y":7.8,"r":3},{"p":"d","k":"p","x":-2.6,"y":8.9,"r":2},{"p":"d","k":"p","x":2.6,"y":7.0,"r":2},{"p":"d","k":"p","x":2.4,"y":6.6,"r":3},{"p":"d","k":"p","x":2.8,"y":5.1,"r":2},{"p":"d","k":"p","x":-2.6,"y":5.6,"r":2},{"p":"d","k":"p","x":-2.4,"y":3.4,"r":2},{"p":"d","k":"p","x":-1.6,"y":2.4,"r":3},{"p":"d","k":"p","x":-2.1,"y":2.9,"r":4},{"p":"d","k":"p","x":2.3,"y":3.6,"r":3},{"p":"d","k":"p","x":2.1,"y":2.4,"r":4},{"p":"d","k":"p","x":1.9,"y":1.2,"r":3},{"p":"d","k":"p","x":1.2,"y":0.7,"r":4},{"p":"d","k":"p","x":-0.7,"y":1.0,"r":3},{"p":"d","k":"p","x":-1.3,"y":1.8,"r":4},{"p":"d","k":"p","x":-2.8,"y":0.9,"r":3},{"p":"d","k":"p","x":-0.1,"y":-0.5,"r":4},{"p":"d","k":"p","x":-0.4,"y":-0.6,"r":2},{"p":"d","k":"p","x":0.3,"y":0.2,"r":4},{"p":"d","k":"p","x":2.3,"y":0.6,"r":3},{"p":"d","k":"p","x":1.7,"y":1.6,"r":4},
{"p":"d","k":"p","x":12.1,"y":1.7,"r":2},{"p":"d","k":"p","x":12.4,"y":0.6,"r":2},{"p":"d","k":"p","x":12.6,"y":-0.4,"r":1},{"p":"d","k":"p","x":13.0,"y":1.2,"r":3},{"p":"d","k":"p","x":13.2,"y":-0.9,"r":2},{"p":"d","k":"p","x":13.5,"y":0.2,"r":3},{"p":"d","k":"p","x":13.8,"y":-1.6,"r":1},{"p":"d","k":"p","x":14.0,"y":1.7,"r":2},{"p":"d","k":"p","x":14.3,"y":0.8,"r":3},{"p":"d","k":"p","x":14.5,"y":-0.6,"r":3},{"p":"d","k":"p","x":14.8,"y":2.0,"r":2},{"p":"d","k":"p","x":15.0,"y":-1.5,"r":2},{"p":"d","k":"p","x":15.2,"y":0.3,"r":4},{"p":"d","k":"p","x":15.5,"y":1.4,"r":3},{"p":"d","k":"p","x":15.8,"y":-1.0,"r":3},{"p":"d","k":"p","x":16.1,"y":2.3,"r":2},{"p":"d","k":"p","x":16.3,"y":-1.9,"r":2},{"p":"d","k":"p","x":16.6,"y":0.9,"r":4},{"p":"d","k":"p","x":16.9,"y":-0.3,"r":4},{"p":"d","k":"p","x":17.1,"y":1.9,"r":3},{"p":"d","k":"p","x":17.3,"y":-1.3,"r":3},{"p":"d","k":"p","x":17.6,"y":2.5,"r":2},{"p":"d","k":"p","x":17.9,"y":0.4,"r":4},{"p":"d","k":"p","x":18.1,"y":-2.1,"r":2},{"p":"d","k":"p","x":18.4,"y":1.4,"r":4},{"p":"d","k":"p","x":18.7,"y":-0.8,"r":4},{"p":"d","k":"p","x":19.0,"y":2.1,"r":3},{"p":"d","k":"p","x":19.3,"y":0.0,"r":4},{"p":"d","k":"p","x":19.6,"y":-1.6,"r":3},{"p":"d","k":"p","x":19.9,"y":2.6,"r":2},{"p":"d","k":"p","x":20.1,"y":1.0,"r":4},{"p":"d","k":"p","x":20.4,"y":-0.5,"r":4},{"p":"d","k":"p","x":20.7,"y":-2.0,"r":2},{"p":"d","k":"p","x":21.0,"y":1.8,"r":4},{"p":"d","k":"p","x":21.3,"y":2.5,"r":4},{"p":"d","k":"p","x":21.6,"y":-1.2,"r":4},{"p":"d","k":"p","x":21.9,"y":0.6,"r":4},{"p":"d","k":"p","x":22.2,"y":-2.8,"r":2},{"p":"d","k":"p","x":22.5,"y":1.9,"r":3},{"p":"d","k":"p","x":22.8,"y":-0.2,"r":4},{"p":"d","k":"p","x":23.1,"y":-1.9,"r":3},{"p":"d","k":"p","x":23.4,"y":1.2,"r":3},{"p":"d","k":"p","x":23.7,"y":-3.6,"r":1},{"p":"d","k":"p","x":23.9,"y":0.2,"r":3},{"p":"d","k":"p","x":24.2,"y":2.0,"r":2},{"p":"d","k":"p","x":24.5,"y":-1.2,"r":3},{"p":"d","k":"p","x":24.8,"y":1.0,"r":2},{"p":"d","k":"p","x":25.1,"y":-0.5,"r":3},{"p":"d","k":"p","x":25.5,"y":0.8,"r":2},{"p":"d","k":"p","x":25.8,"y":-2.0,"r":2},{"p":"d","k":"p","x":26.0,"y":0.2,"r":3},{"p":"d","k":"p","x":26.6,"y":1.0,"r":2},{"p":"d","k":"p","x":26.9,"y":1.4,"r":3},{"p":"d","k":"p","x":27.9,"y":1.2,"r":3},{"p":"d","k":"p","x":27.8,"y":0.2,"r":4},{"p":"d","k":"p","x":28.3,"y":0.3,"r":4},{"p":"d","k":"p","x":27.9,"y":-2.4,"r":1},{"p":"d","k":"p","x":25.2,"y":-2.2,"r":2},{"p":"d","k":"p","x":22.6,"y":-2.9,"r":2},{"p":"d","k":"p","x":21.1,"y":-2.3,"r":3},{"p":"d","k":"p","x":16.0,"y":-2.0,"r":1},{"p":"d","k":"p","x":15.2,"y":-1.8,"r":1},{"p":"d","k":"p","x":26.2,"y":-0.6,"r":2},{"p":"d","k":"p","x":24.0,"y":-2.5,"r":2},

{"p":"e","k":"p","x":0.0,"y":1.3,"r":3},{"p":"e","k":"p","x":-1.6,"y":2.2,"r":2},{"p":"e","k":"p","x":1.4,"y":2.2,"r":3},{"p":"e","k":"p","x":-2.2,"y":3.0,"r":3},{"p":"e","k":"p","x":2.0,"y":3.0,"r":2},{"p":"e","k":"p","x":-2.6,"y":4.0,"r":2},{"p":"e","k":"p","x":2.4,"y":4.0,"r":3},{"p":"e","k":"p","x":-2.9,"y":5.5,"r":3},{"p":"e","k":"p","x":2.7,"y":5.5,"r":2},{"p":"e","k":"p","x":-3.0,"y":6.5,"r":2},{"p":"e","k":"p","x":2.8,"y":6.5,"r":3},{"p":"e","k":"p","x":-3.1,"y":7.5,"r":3},{"p":"e","k":"p","x":2.9,"y":7.5,"r":2},{"p":"e","k":"p","x":-3.05,"y":8.8,"r":2},{"p":"e","k":"p","x":2.85,"y":8.8,"r":3},{"p":"e","k":"p","x":-3.0,"y":10.0,"r":3},{"p":"e","k":"p","x":2.8,"y":10.0,"r":2},{"p":"e","k":"p","x":-2.85,"y":11.0,"r":2},{"p":"e","k":"p","x":2.7,"y":11.0,"r":3},{"p":"e","k":"p","x":-2.7,"y":12.0,"r":3},{"p":"e","k":"p","x":2.6,"y":12.0,"r":2},{"p":"e","k":"p","x":-2.3,"y":13.5,"r":2},{"p":"e","k":"p","x":2.3,"y":13.5,"r":3},{"p":"e","k":"p","x":-1.5,"y":15.0,"r":3},{"p":"e","k":"p","x":1.7,"y":15.0,"r":2},{"p":"e","k":"p","x":0.0,"y":15.9,"r":3},
{"p":"e","k":"p","x":13.6,"y":-0.1,"r":3},{"p":"e","k":"p","x":14.8,"y":-1.4,"r":2},{"p":"e","k":"p","x":14.8,"y":1.1,"r":3},{"p":"e","k":"p","x":16.0,"y":-1.7,"r":3},{"p":"e","k":"p","x":16.0,"y":1.6,"r":2},{"p":"e","k":"p","x":17.0,"y":-1.8,"r":2},{"p":"e","k":"p","x":17.0,"y":1.75,"r":3},{"p":"e","k":"p","x":18.0,"y":-1.9,"r":3},{"p":"e","k":"p","x":18.0,"y":1.9,"r":2},{"p":"e","k":"p","x":19.0,"y":-1.95,"r":2},{"p":"e","k":"p","x":19.0,"y":1.95,"r":3},{"p":"e","k":"p","x":20.0,"y":-2.0,"r":3},{"p":"e","k":"p","x":20.0,"y":2.0,"r":2},{"p":"e","k":"p","x":21.0,"y":-1.95,"r":2},{"p":"e","k":"p","x":21.0,"y":1.95,"r":3},{"p":"e","k":"p","x":22.0,"y":-1.9,"r":3},{"p":"e","k":"p","x":22.0,"y":1.9,"r":2},{"p":"e","k":"p","x":23.0,"y":-1.75,"r":2},{"p":"e","k":"p","x":23.0,"y":1.75,"r":3},{"p":"e","k":"p","x":24.0,"y":-1.6,"r":3},{"p":"e","k":"p","x":24.0,"y":1.6,"r":2},{"p":"e","k":"p","x":25.3,"y":-1.1,"r":2},{"p":"e","k":"p","x":25.3,"y":1.2,"r":3},{"p":"e","k":"p","x":26.2,"y":0.0,"r":3},
{"p":"e","k":"p","x":-0.4,"y":17.7,"r":1},{"p":"e","k":"p","x":0.2,"y":17.3,"r":4},{"p":"e","k":"p","x":-1.0,"y":16.4,"r":2},{"p":"e","k":"p","x":1.0,"y":16.2,"r":2},{"p":"e","k":"p","x":0.4,"y":16.6,"r":3},{"p":"e","k":"p","x":-1.9,"y":15.4,"r":2},{"p":"e","k":"p","x":1.7,"y":15.2,"r":2},{"p":"e","k":"p","x":-2.6,"y":14.6,"r":1},{"p":"e","k":"p","x":2.4,"y":14.2,"r":2},{"p":"e","k":"p","x":-3.0,"y":13.4,"r":2},{"p":"e","k":"p","x":2.8,"y":13.0,"r":1},{"p":"e","k":"p","x":-3.5,"y":12.6,"r":1},{"p":"e","k":"p","x":-3.3,"y":11.6,"r":3},{"p":"e","k":"p","x":3.2,"y":11.7,"r":2},{"p":"e","k":"p","x":3.1,"y":10.4,"r":1},{"p":"e","k":"p","x":-3.7,"y":10.4,"r":2},{"p":"e","k":"p","x":3.5,"y":9.3,"r":1},{"p":"e","k":"p","x":-3.8,"y":8.8,"r":2},{"p":"e","k":"p","x":3.7,"y":7.2,"r":1},{"p":"e","k":"p","x":3.4,"y":8.2,"r":2},{"p":"e","k":"p","x":-3.9,"y":7.3,"r":1},{"p":"e","k":"p","x":-3.6,"y":6.2,"r":2},{"p":"e","k":"p","x":3.3,"y":4.5,"r":3},{"p":"e","k":"p","x":3.6,"y":5.5,"r":2},{"p":"e","k":"p","x":-3.5,"y":5.5,"r":1},{"p":"e","k":"p","x":-3.8,"y":4.0,"r":2},{"p":"e","k":"p","x":-3.2,"y":3.2,"r":3},{"p":"e","k":"p","x":2.8,"y":3.2,"r":2},{"p":"e","k":"p","x":2.5,"y":2.1,"r":3},{"p":"e","k":"p","x":-2.5,"y":2.2,"r":2},{"p":"e","k":"p","x":-2.5,"y":0.9,"r":1},{"p":"e","k":"p","x":-2.1,"y":0.3,"r":4},{"p":"e","k":"p","x":-1.0,"y":-0.2,"r":4},{"p":"e","k":"p","x":0.0,"y":0.1,"r":2},{"p":"e","k":"p","x":1.2,"y":0.7,"r":2},{"p":"e","k":"p","x":2.1,"y":0.8,"r":4},{"p":"e","k":"p","x":2.8,"y":0.5,"r":1},{"p":"e","k":"p","x":0.8,"y":-1.6,"r":3},{"p":"e","k":"p","x":-0.1,"y":-2.3,"r":1},{"p":"e","k":"p","x":-1.5,"y":1.5,"r":2},{"p":"e","k":"p","x":1.6,"y":1.7,"r":3},{"p":"e","k":"p","x":-0.6,"y":0.9,"r":3},{"p":"e","k":"p","x":0.5,"y":1.0,"r":2},{"p":"e","k":"p","x":-2.9,"y":2.6,"r":3},{"p":"e","k":"p","x":3.0,"y":12.2,"r":1},
{"p":"e","k":"p","x":12.1,"y":0.3,"r":3},{"p":"e","k":"p","x":12.7,"y":-0.5,"r":2},{"p":"e","k":"p","x":13.3,"y":1.3,"r":2},{"p":"e","k":"p","x":13.3,"y":-1.2,"r":3},{"p":"e","k":"p","x":14.0,"y":2.1,"r":1},{"p":"e","k":"p","x":14.2,"y":-1.9,"r":2},{"p":"e","k":"p","x":14.8,"y":-3.4,"r":3},{"p":"e","k":"p","x":15.0,"y":2.2,"r":2},{"p":"e","k":"p","x":15.5,"y":-2.3,"r":2},{"p":"e","k":"p","x":16.3,"y":2.6,"r":1},{"p":"e","k":"p","x":16.8,"y":-2.5,"r":3},{"p":"e","k":"p","x":17.3,"y":2.3,"r":2},{"p":"e","k":"p","x":17.9,"y":-2.5,"r":2},{"p":"e","k":"p","x":18.4,"y":2.5,"r":1},{"p":"e","k":"p","x":19.1,"y":-2.6,"r":3},{"p":"e","k":"p","x":19.8,"y":-2.9,"r":1},{"p":"e","k":"p","x":20.0,"y":2.5,"r":2},{"p":"e","k":"p","x":20.8,"y":-2.7,"r":2},{"p":"e","k":"p","x":21.5,"y":2.6,"r":1},{"p":"e","k":"p","x":22.2,"y":-2.5,"r":2},{"p":"e","k":"p","x":22.9,"y":2.4,"r":2},{"p":"e","k":"p","x":23.5,"y":-2.4,"r":1},{"p":"e","k":"p","x":24.0,"y":2.2,"r":2},{"p":"e","k":"p","x":24.9,"y":3.1,"r":1},{"p":"e","k":"p","x":24.6,"y":-2.0,"r":2},{"p":"e","k":"p","x":25.3,"y":1.9,"r":2},{"p":"e","k":"p","x":25.6,"y":-1.7,"r":1},{"p":"e","k":"p","x":26.0,"y":2.0,"r":1},{"p":"e","k":"p","x":26.4,"y":1.0,"r":2},{"p":"e","k":"p","x":26.6,"y":-0.8,"r":2},{"p":"e","k":"p","x":27.1,"y":0.4,"r":1},{"p":"e","k":"p","x":27.7,"y":0.7,"r":3},{"p":"e","k":"p","x":27.4,"y":-0.1,"r":1},{"p":"e","k":"p","x":28.7,"y":-0.2,"r":1},{"p":"e","k":"p","x":26.0,"y":-1.75,"r":4},{"p":"e","k":"p","x":27.4,"y":-1.8,"r":4},{"p":"e","k":"p","x":25.9,"y":-3.0,"r":1},{"p":"e","k":"p","x":23.0,"y":-2.9,"r":2},{"p":"e","k":"p","x":13.8,"y":1.3,"r":2},{"p":"e","k":"p","x":14.4,"y":0.3,"r":3},

{"p":"f","k":"p","x":0.0,"y":-0.1,"r":3},{"p":"f","k":"p","x":-1.2,"y":0.6,"r":2},{"p":"f","k":"p","x":1.0,"y":0.6,"r":3},{"p":"f","k":"p","x":-1.9,"y":1.6,"r":3},{"p":"f","k":"p","x":1.6,"y":1.6,"r":2},{"p":"f","k":"p","x":-2.3,"y":3.0,"r":2},{"p":"f","k":"p","x":2.2,"y":3.0,"r":3},{"p":"f","k":"p","x":-2.6,"y":4.5,"r":3},{"p":"f","k":"p","x":2.6,"y":4.5,"r":2},{"p":"f","k":"p","x":-2.8,"y":5.8,"r":2},{"p":"f","k":"p","x":2.7,"y":5.8,"r":3},{"p":"f","k":"p","x":-3.0,"y":7.0,"r":3},{"p":"f","k":"p","x":2.8,"y":7.0,"r":2},{"p":"f","k":"p","x":-3.0,"y":8.2,"r":2},{"p":"f","k":"p","x":2.8,"y":8.2,"r":3},{"p":"f","k":"p","x":-3.0,"y":9.5,"r":3},{"p":"f","k":"p","x":2.8,"y":9.5,"r":2},{"p":"f","k":"p","x":-2.85,"y":10.8,"r":2},{"p":"f","k":"p","x":2.65,"y":10.8,"r":3},{"p":"f","k":"p","x":-2.7,"y":12.0,"r":3},{"p":"f","k":"p","x":2.5,"y":12.0,"r":2},{"p":"f","k":"p","x":-2.2,"y":13.8,"r":2},{"p":"f","k":"p","x":2.1,"y":13.8,"r":3},{"p":"f","k":"p","x":-1.5,"y":15.0,"r":3},{"p":"f","k":"p","x":1.3,"y":15.0,"r":2},{"p":"f","k":"p","x":0.0,"y":15.8,"r":3},
{"p":"f","k":"p","x":12.8,"y":-0.6,"r":3},{"p":"f","k":"p","x":14.0,"y":-1.9,"r":2},{"p":"f","k":"p","x":14.0,"y":0.6,"r":3},{"p":"f","k":"p","x":15.5,"y":-2.3,"r":3},{"p":"f","k":"p","x":15.5,"y":1.1,"r":2},{"p":"f","k":"p","x":16.5,"y":-2.45,"r":2},{"p":"f","k":"p","x":16.5,"y":1.25,"r":3},{"p":"f","k":"p","x":17.5,"y":-2.6,"r":3},{"p":"f","k":"p","x":17.5,"y":1.4,"r":2},{"p":"f","k":"p","x":18.5,"y":-2.65,"r":2},{"p":"f","k":"p","x":18.5,"y":1.45,"r":3},{"p":"f","k":"p","x":19.5,"y":-2.7,"r":3},{"p":"f","k":"p","x":19.5,"y":1.5,"r":2},{"p":"f","k":"p","x":20.5,"y":-2.65,"r":2},{"p":"f","k":"p","x":20.5,"y":1.45,"r":3},{"p":"f","k":"p","x":21.5,"y":-2.6,"r":3},{"p":"f","k":"p","x":21.5,"y":1.4,"r":2},{"p":"f","k":"p","x":22.5,"y":-2.45,"r":2},{"p":"f","k":"p","x":22.5,"y":1.25,"r":3},{"p":"f","k":"p","x":23.5,"y":-2.3,"r":3},{"p":"f","k":"p","x":23.5,"y":1.1,"r":2},{"p":"f","k":"p","x":25.0,"y":-1.8,"r":2},{"p":"f","k":"p","x":25.0,"y":0.7,"r":3},{"p":"f","k":"p","x":26.3,"y":-0.5,"r":3},
{"p":"f","k":"p","x":-0.9,"y":19.4,"r":1},{"p":"f","k":"p","x":0.9,"y":19.6,"r":1},{"p":"f","k":"p","x":2.2,"y":18.9,"r":4},{"p":"f","k":"p","x":-0.7,"y":17.8,"r":2},{"p":"f","k":"p","x":-0.8,"y":17.0,"r":3},{"p":"f","k":"p","x":0.9,"y":16.4,"r":2},{"p":"f","k":"p","x":-1.6,"y":16.0,"r":2},{"p":"f","k":"p","x":1.5,"y":15.6,"r":2},{"p":"f","k":"p","x":2.3,"y":15.0,"r":1},{"p":"f","k":"p","x":-2.4,"y":14.9,"r":3},{"p":"f","k":"p","x":-2.6,"y":14.0,"r":2},{"p":"f","k":"p","x":2.7,"y":13.7,"r":2},{"p":"f","k":"p","x":-3.3,"y":12.2,"r":3},{"p":"f","k":"p","x":-3.0,"y":11.3,"r":2},{"p":"f","k":"p","x":3.0,"y":11.8,"r":1},{"p":"f","k":"p","x":3.3,"y":10.6,"r":2},{"p":"f","k":"p","x":3.7,"y":9.1,"r":3},{"p":"f","k":"p","x":-3.7,"y":9.9,"r":2},{"p":"f","k":"p","x":-3.9,"y":8.8,"r":1},{"p":"f","k":"p","x":3.5,"y":8.2,"r":1},{"p":"f","k":"p","x":-3.5,"y":7.3,"r":2},{"p":"f","k":"p","x":-4.0,"y":6.1,"r":1},{"p":"f","k":"p","x":3.5,"y":6.6,"r":1},{"p":"f","k":"p","x":3.3,"y":5.3,"r":2},{"p":"f","k":"p","x":-3.4,"y":4.8,"r":2},{"p":"f","k":"p","x":3.0,"y":4.0,"r":1},{"p":"f","k":"p","x":-3.0,"y":3.6,"r":2},{"p":"f","k":"p","x":2.8,"y":2.8,"r":2},{"p":"f","k":"p","x":-2.7,"y":2.2,"r":3},{"p":"f","k":"p","x":2.5,"y":1.7,"r":2},{"p":"f","k":"p","x":-2.4,"y":1.0,"r":2},{"p":"f","k":"p","x":2.0,"y":0.5,"r":1},{"p":"f","k":"p","x":-1.5,"y":-0.3,"r":3},{"p":"f","k":"p","x":-0.8,"y":-0.9,"r":2},{"p":"f","k":"p","x":-1.1,"y":-1.6,"r":3},{"p":"f","k":"p","x":0.5,"y":-0.9,"r":1},{"p":"f","k":"p","x":-2.2,"y":-1.9,"r":2},{"p":"f","k":"p","x":-0.4,"y":-1.5,"r":2},{"p":"f","k":"p","x":-1.8,"y":0.4,"r":3},{"p":"f","k":"p","x":1.2,"y":0.3,"r":2},{"p":"f","k":"p","x":-2.9,"y":13.1,"r":2},{"p":"f","k":"p","x":3.1,"y":12.8,"r":1},
{"p":"f","k":"p","x":11.2,"y":-0.2,"r":1},{"p":"f","k":"p","x":11.7,"y":0.6,"r":2},{"p":"f","k":"p","x":12.2,"y":-0.8,"r":3},{"p":"f","k":"p","x":12.4,"y":1.1,"r":1},{"p":"f","k":"p","x":12.6,"y":-1.9,"r":2},{"p":"f","k":"p","x":12.0,"y":0.3,"r":3},{"p":"f","k":"p","x":13.3,"y":1.3,"r":1},{"p":"f","k":"p","x":13.6,"y":-2.3,"r":2},{"p":"f","k":"p","x":14.3,"y":1.6,"r":2},{"p":"f","k":"p","x":14.8,"y":-2.8,"r":1},{"p":"f","k":"p","x":15.6,"y":2.0,"r":2},{"p":"f","k":"p","x":16.2,"y":-2.9,"r":2},{"p":"f","k":"p","x":16.9,"y":2.3,"r":1},{"p":"f","k":"p","x":17.5,"y":-3.0,"r":2},{"p":"f","k":"p","x":18.3,"y":2.1,"r":2},{"p":"f","k":"p","x":19.1,"y":-3.2,"r":2},{"p":"f","k":"p","x":19.8,"y":2.3,"r":1},{"p":"f","k":"p","x":20.6,"y":-3.0,"r":2},{"p":"f","k":"p","x":21.4,"y":2.1,"r":2},{"p":"f","k":"p","x":22.1,"y":-3.2,"r":2},{"p":"f","k":"p","x":22.8,"y":2.3,"r":1},{"p":"f","k":"p","x":23.5,"y":-2.6,"r":2},{"p":"f","k":"p","x":24.2,"y":2.5,"r":2},{"p":"f","k":"p","x":24.8,"y":2.1,"r":1},{"p":"f","k":"p","x":25.3,"y":-2.2,"r":2},{"p":"f","k":"p","x":25.8,"y":1.5,"r":2},{"p":"f","k":"p","x":26.2,"y":-1.8,"r":2},{"p":"f","k":"p","x":26.3,"y":0.8,"r":1},{"p":"f","k":"p","x":26.6,"y":-0.5,"r":3},{"p":"f","k":"p","x":27.2,"y":0.5,"r":2},{"p":"f","k":"p","x":27.1,"y":1.6,"r":3},{"p":"f","k":"p","x":28.0,"y":0.2,"r":1},{"p":"f","k":"p","x":28.2,"y":-0.8,"r":2},{"p":"f","k":"p","x":27.7,"y":-1.6,"r":1},{"p":"f","k":"p","x":28.8,"y":-0.7,"r":2},{"p":"f","k":"p","x":29.4,"y":-0.7,"r":1},{"p":"f","k":"p","x":29.2,"y":0.8,"r":3},{"p":"f","k":"p","x":25.0,"y":-2.7,"r":3},{"p":"f","k":"p","x":21.0,"y":-2.9,"r":3},{"p":"f","k":"p","x":14.0,"y":0.8,"r":3},

{"p":"b","k":"c","c":"tl","i":0,"x":-5.0,"y":17.92},{"p":"b","k":"c","c":"tl","i":1,"x":-4.0,"y":19.0},{"p":"b","k":"c","c":"tl","i":2,"x":-2.92,"y":20.0},
{"p":"b","k":"c","c":"ar","i":0,"x":22.92,"y":20.0},{"p":"b","k":"c","c":"ar","i":1,"x":24.0,"y":19.0},{"p":"b","k":"c","c":"ar","i":2,"x":25.17,"y":17.73},{"p":"b","k":"c","c":"ar","i":3,"x":26.22,"y":16.36},{"p":"b","k":"c","c":"ar","i":4,"x":27.15,"y":14.9},{"p":"b","k":"c","c":"ar","i":5,"x":27.94,"y":13.37},{"p":"b","k":"c","c":"ar","i":6,"x":28.61,"y":11.77},{"p":"b","k":"c","c":"ar","i":7,"x":29.13,"y":10.12},{"p":"b","k":"c","c":"ar","i":8,"x":29.5,"y":8.44},{"p":"b","k":"c","c":"ar","i":9,"x":29.72,"y":6.73},{"p":"b","k":"c","c":"ar","i":10,"x":29.8,"y":5.0},{"p":"b","k":"c","c":"ar","i":11,"x":29.72,"y":3.27},{"p":"b","k":"c","c":"ar","i":12,"x":29.5,"y":1.56},{"p":"b","k":"c","c":"ar","i":13,"x":29.13,"y":-0.12},{"p":"b","k":"c","c":"ar","i":14,"x":28.61,"y":-1.77},{"p":"b","k":"c","c":"ar","i":15,"x":27.94,"y":-3.37},{"p":"b","k":"c","c":"ar","i":16,"x":27.09,"y":-5.0},
{"p":"e","k":"c","c":"tl","i":0,"x":-5.0,"y":17.92},{"p":"e","k":"c","c":"tl","i":1,"x":-4.0,"y":19.0},{"p":"e","k":"c","c":"tl","i":2,"x":-2.92,"y":20.0},
{"p":"e","k":"c","c":"ar","i":0,"x":22.92,"y":20.0},{"p":"e","k":"c","c":"ar","i":1,"x":24.0,"y":19.0},{"p":"e","k":"c","c":"ar","i":2,"x":25.17,"y":17.73},{"p":"e","k":"c","c":"ar","i":3,"x":26.22,"y":16.36},{"p":"e","k":"c","c":"ar","i":4,"x":27.15,"y":14.9},{"p":"e","k":"c","c":"ar","i":5,"x":27.94,"y":13.37},{"p":"e","k":"c","c":"ar","i":6,"x":28.61,"y":11.77},{"p":"e","k":"c","c":"ar","i":7,"x":29.13,"y":10.12},{"p":"e","k":"c","c":"ar","i":8,"x":29.5,"y":8.44},{"p":"e","k":"c","c":"ar","i":9,"x":29.72,"y":6.73},{"p":"e","k":"c","c":"ar","i":10,"x":29.8,"y":5.0},{"p":"e","k":"c","c":"ar","i":11,"x":29.72,"y":3.27},{"p":"e","k":"c","c":"ar","i":12,"x":29.5,"y":1.56},{"p":"e","k":"c","c":"ar","i":13,"x":29.13,"y":-0.12},{"p":"e","k":"c","c":"ar","i":14,"x":28.61,"y":-1.77},{"p":"e","k":"c","c":"ar","i":15,"x":27.94,"y":-3.37},{"p":"e","k":"c","c":"ar","i":16,"x":27.09,"y":-5.0},
{"p":"e","k":"c","c":"ci","i":0,"x":16.0,"y":4.9},{"p":"e","k":"c","c":"ci","i":1,"x":15.2,"y":7.9},{"p":"e","k":"c","c":"ci","i":2,"x":13.0,"y":10.1},{"p":"e","k":"c","c":"ci","i":3,"x":10.0,"y":10.9},{"p":"e","k":"c","c":"ci","i":4,"x":7.0,"y":10.1},{"p":"e","k":"c","c":"ci","i":5,"x":4.8,"y":7.9},{"p":"e","k":"c","c":"ci","i":6,"x":4.0,"y":4.9},{"p":"e","k":"c","c":"ci","i":7,"x":4.8,"y":1.9},{"p":"e","k":"c","c":"ci","i":8,"x":7.0,"y":-0.3},{"p":"e","k":"c","c":"ci","i":9,"x":10.0,"y":-1.1},{"p":"e","k":"c","c":"ci","i":10,"x":13.0,"y":-0.3},{"p":"e","k":"c","c":"ci","i":11,"x":15.2,"y":1.9},{"p":"e","k":"c","c":"ci","i":12,"x":16.0,"y":4.9},
{"p":"c","k":"c","c":"el","i":0,"x":11.87,"y":5.0},{"p":"c","k":"c","c":"el","i":1,"x":11.61,"y":8.0},{"p":"c","k":"c","c":"el","i":2,"x":10.9,"y":10.19},{"p":"c","k":"c","c":"el","i":3,"x":9.93,"y":10.99},{"p":"c","k":"c","c":"el","i":4,"x":8.96,"y":10.19},{"p":"c","k":"c","c":"el","i":5,"x":8.25,"y":8.0},{"p":"c","k":"c","c":"el","i":6,"x":7.99,"y":5.0},{"p":"c","k":"c","c":"el","i":7,"x":8.25,"y":2.0},{"p":"c","k":"c","c":"el","i":8,"x":8.96,"y":-0.19},{"p":"c","k":"c","c":"el","i":9,"x":9.93,"y":-0.99},{"p":"c","k":"c","c":"el","i":10,"x":10.9,"y":-0.19},{"p":"c","k":"c","c":"el","i":11,"x":11.61,"y":2.0},{"p":"c","k":"c","c":"el","i":12,"x":11.87,"y":5.0},
{"p":"d","k":"c","c":"u","i":0,"x":-4.92,"y":13.82},{"p":"d","k":"c","c":"u","i":1,"x":-1.96,"y":13.49},{"p":"d","k":"c","c":"u","i":2,"x":0.5,"y":12.88},{"p":"d","k":"c","c":"u","i":3,"x":2.83,"y":12.2},{"p":"d","k":"c","c":"u","i":4,"x":5.54,"y":11.45},{"p":"d","k":"c","c":"u","i":5,"x":9.71,"y":10.0},{"p":"d","k":"c","c":"u","i":6,"x":12.6,"y":8.75},{"p":"d","k":"c","c":"u","i":7,"x":16.33,"y":6.99},{"p":"d","k":"c","c":"u","i":8,"x":20.49,"y":4.68},{"p":"d","k":"c","c":"u","i":9,"x":23.83,"y":2.58},{"p":"d","k":"c","c":"u","i":10,"x":26.33,"y":1.11},{"p":"d","k":"c","c":"u","i":11,"x":28.0,"y":-0.15},{"p":"d","k":"c","c":"u","i":12,"x":30.0,"y":-1.62},
{"p":"d","k":"c","c":"w","i":0,"x":-5.08,"y":7.2},{"p":"d","k":"c","c":"w","i":1,"x":-2.79,"y":5.94},{"p":"d","k":"c","c":"w","i":2,"x":2.21,"y":3.42},{"p":"d","k":"c","c":"w","i":3,"x":5.54,"y":1.95},{"p":"d","k":"c","c":"w","i":4,"x":9.71,"y":0.27},{"p":"d","k":"c","c":"w","i":5,"x":13.04,"y":-0.91},{"p":"d","k":"c","c":"w","i":6,"x":14.66,"y":-1.62},{"p":"d","k":"c","c":"w","i":7,"x":17.16,"y":-2.46},{"p":"d","k":"c","c":"w","i":8,"x":20.49,"y":-3.3},{"p":"d","k":"c","c":"w","i":9,"x":22.99,"y":-3.72},{"p":"d","k":"c","c":"w","i":10,"x":25.08,"y":-3.93},{"p":"d","k":"c","c":"w","i":11,"x":27.16,"y":-3.93},{"p":"d","k":"c","c":"w","i":12,"x":28.83,"y":-3.72},{"p":"d","k":"c","c":"w","i":13,"x":30.0,"y":-3.3},
{"p":"f","k":"c","c":"tl","i":0,"x":-4.75,"y":16.2},{"p":"f","k":"c","c":"tl","i":1,"x":-3.6,"y":17.9},{"p":"f","k":"c","c":"tl","i":2,"x":-2.47,"y":19.55},
{"p":"f","k":"c","c":"ar","i":0,"x":26.68,"y":19.41},{"p":"f","k":"c","c":"ar","i":1,"x":27.92,"y":15.0},{"p":"f","k":"c","c":"ar","i":2,"x":28.42,"y":10.8},{"p":"f","k":"c","c":"ar","i":3,"x":28.54,"y":8.7},{"p":"f","k":"c","c":"ar","i":4,"x":28.42,"y":5.35},{"p":"f","k":"c","c":"ar","i":5,"x":28.13,"y":2.83},{"p":"f","k":"c","c":"ar","i":6,"x":27.51,"y":0.31},{"p":"f","k":"c","c":"ar","i":7,"x":26.68,"y":-2.21},{"p":"f","k":"c","c":"ar","i":8,"x":25.44,"y":-4.94},
{"p":"f","k":"c","c":"bc","i":0,"x":16.55,"y":4.93},{"p":"f","k":"c","c":"bc","i":1,"x":16.33,"y":6.81},{"p":"f","k":"c","c":"bc","i":2,"x":15.67,"y":8.57},{"p":"f","k":"c","c":"bc","i":3,"x":14.63,"y":10.07},{"p":"f","k":"c","c":"bc","i":4,"x":13.28,"y":11.23},{"p":"f","k":"c","c":"bc","i":5,"x":11.7,"y":11.95},{"p":"f","k":"c","c":"bc","i":6,"x":10.0,"y":12.2},{"p":"f","k":"c","c":"bc","i":7,"x":8.3,"y":11.95},{"p":"f","k":"c","c":"bc","i":8,"x":6.72,"y":11.23},{"p":"f","k":"c","c":"bc","i":9,"x":5.37,"y":10.07},{"p":"f","k":"c","c":"bc","i":10,"x":4.33,"y":8.57},{"p":"f","k":"c","c":"bc","i":11,"x":3.67,"y":6.81},{"p":"f","k":"c","c":"bc","i":12,"x":3.45,"y":4.93},{"p":"f","k":"c","c":"bc","i":13,"x":3.67,"y":3.05},{"p":"f","k":"c","c":"bc","i":14,"x":4.33,"y":1.29},{"p":"f","k":"c","c":"bc","i":15,"x":5.37,"y":-0.21},{"p":"f","k":"c","c":"bc","i":16,"x":6.72,"y":-1.37},{"p":"f","k":"c","c":"bc","i":17,"x":8.3,"y":-2.09},{"p":"f","k":"c","c":"bc","i":18,"x":10.0,"y":-2.34},{"p":"f","k":"c","c":"bc","i":19,"x":11.7,"y":-2.09},{"p":"f","k":"c","c":"bc","i":20,"x":13.28,"y":-1.37},{"p":"f","k":"c","c":"bc","i":21,"x":14.63,"y":-0.21},{"p":"f","k":"c","c":"bc","i":22,"x":15.67,"y":1.29},{"p":"f","k":"c","c":"bc","i":23,"x":16.33,"y":3.05},{"p":"f","k":"c","c":"bc","i":24,"x":16.55,"y":4.93},
{"p":"f","k":"c","c":"fs","i":0,"x":11.09,"y":4.93},{"p":"f","k":"c","c":"fs","i":1,"x":10.94,"y":5.61},{"p":"f","k":"c","c":"fs","i":2,"x":10.52,"y":6.1},{"p":"f","k":"c","c":"fs","i":3,"x":9.95,"y":6.28},{"p":"f","k":"c","c":"fs","i":4,"x":9.38,"y":6.1},{"p":"f","k":"c","c":"fs","i":5,"x":8.96,"y":5.61},{"p":"f","k":"c","c":"fs","i":6,"x":8.81,"y":4.93},{"p":"f","k":"c","c":"fs","i":7,"x":8.96,"y":4.25},{"p":"f","k":"c","c":"fs","i":8,"x":9.38,"y":3.76},{"p":"f","k":"c","c":"fs","i":9,"x":9.95,"y":3.58},{"p":"f","k":"c","c":"fs","i":10,"x":10.52,"y":3.76},{"p":"f","k":"c","c":"fs","i":11,"x":10.94,"y":4.25},{"p":"f","k":"c","c":"fs","i":12,"x":11.09,"y":4.93},

{"p":"a","k":"l","t":"Acc. rate = 1.000\nMSJD = 11.327\nP(x₁>5) = 0.304"},
{"p":"b","k":"l","t":"Acc. rate = 0.029\nMSJD = 0.277\nP(x₁>5) = 0.334"},
{"p":"c","k":"l","t":"Acc. rate = 0.360\nMSJD = 1.122\nP(x₁>5) = 0.000"},
{"p":"d","k":"l","t":"Acc. rate = 0.093\nMSJD = 0.748\nP(x₁>5) = 0.332"},
{"p":"e","k":"l","t":"Acc. rate = 0.165\nMSJD = 0.762\nP(x₁>5) = 0.241"},
{"p":"f","k":"l","t":"Acc. rate = 0.443\nMSJD = 1.106\nP(x₁>5) = 0.316"}
]},
"facet": {"field": "p", "type": "nominal", "header": {"title": null, "labelExpr": "datum.value=='a'?'(a) I.I.D.':datum.value=='b'?'(b) Metropolis':datum.value=='c'?'(c) AM, one mode':datum.value=='d'?'(d) AM, two modes':datum.value=='e'?'(e) MTM':'(f) aMTM'", "labelFontSize": 17.6, "labelColor": "black", "labelAnchor": "start", "labelAlign": "left", "labelPadding": 8, "labelFont": "Liberation Sans"}},
"columns": 3,
"spacing": {"row": 20, "column": 19},
"spec": {
"width": 306, "height": 218,
"layer": [
{"transform": [{"filter": "datum.k=='v'"}],
 "mark": {"type": "area", "orient": "horizontal", "color": "black", "interpolate": "monotone", "clip": true},
 "encoding": {
  "y": {"field": "y", "type": "quantitative", "title": "x₂", "scale": {"domain": [-6.25, 21.28], "nice": false, "zero": false},
   "axis": {"values": [-5,-2.5,0,2.5,5,7.5,10,12.5,15,17.5,20], "labelExpr": "datum.value % 5 === 0 ? datum.value + '' : ''",
    "tickOpacity": {"condition": {"test": "datum.value % 5 !== 0", "value": 0}, "value": 1},
    "gridWidth": {"condition": {"test": "datum.value % 5 === 0", "value": 1.07}, "value": 0.53},
    "gridColor": "white", "gridOpacity": 1, "domain": false, "tickColor": "#333333", "tickSize": 3.7, "tickWidth": 1.07,
    "labelColor": "#4D4D4D", "labelFontSize": 11.7, "labelPadding": 2, "labelOverlap": false, "labelFlush": false, "labelBound": false,
    "titleFontSize": 14.7, "titleFontWeight": "normal", "titleColor": "black", "titlePadding": 8}},
  "x": {"field": "lo", "type": "quantitative", "title": "x₁", "scale": {"domain": [-6.75, 31.5], "nice": false, "zero": false},
   "axis": {"values": [-5,0,5,10,15,20,25,30], "labelExpr": "datum.value % 10 === 0 ? datum.value + '' : ''",
    "tickOpacity": {"condition": {"test": "datum.value % 10 !== 0", "value": 0}, "value": 1},
    "gridWidth": {"condition": {"test": "datum.value % 10 === 0", "value": 1.07}, "value": 0.53},
    "gridColor": "white", "gridOpacity": 1, "domain": false, "tickColor": "#333333", "tickSize": 3.7, "tickWidth": 1.07,
    "labelColor": "#4D4D4D", "labelFontSize": 11.7, "labelPadding": 2, "labelOverlap": false, "labelFlush": false, "labelBound": false,
    "titleFontSize": 14.7, "titleFontWeight": "normal", "titleColor": "black", "titlePadding": 3}},
  "x2": {"field": "hi"}
 }},
{"transform": [{"filter": "datum.k=='h'"}],
 "mark": {"type": "area", "orient": "vertical", "color": "black", "interpolate": "monotone", "clip": true},
 "encoding": {
  "x": {"field": "x", "type": "quantitative", "title": "x₁"},
  "y": {"field": "lo", "type": "quantitative", "title": "x₂"},
  "y2": {"field": "hi"}
 }},
{"transform": [{"filter": "datum.k=='p'"}],
 "mark": {"type": "point", "shape": "circle", "filled": true, "size": 44, "color": "black", "strokeWidth": 0, "clip": true},
 "encoding": {
  "x": {"field": "x", "type": "quantitative", "title": "x₁"},
  "y": {"field": "y", "type": "quantitative", "title": "x₂"},
  "opacity": {"field": "r", "type": "quantitative", "scale": {"domain": [1, 4], "range": [0.22, 1]}, "legend": null}
 }},
{"transform": [{"filter": "datum.k=='c'"}],
 "mark": {"type": "line", "strokeWidth": 1.15, "interpolate": "catmull-rom", "clip": true},
 "encoding": {
  "x": {"field": "x", "type": "quantitative", "title": "x₁"},
  "y": {"field": "y", "type": "quantitative", "title": "x₂"},
  "detail": {"field": "c", "type": "nominal"},
  "order": {"field": "i", "type": "quantitative"},
  "color": {"condition": {"test": "datum.c=='fs'", "value": "#555555"}, "value": "black"}
 }},
{"transform": [{"filter": "datum.k=='l'"}],
 "mark": {"type": "rect", "fill": "white", "opacity": 0.62, "cornerRadius": 3},
 "encoding": {
  "x": {"datum": 13.9, "type": "quantitative", "title": "x₁"},
  "x2": {"datum": 30.0},
  "y": {"datum": 11.6, "type": "quantitative", "title": "x₂"},
  "y2": {"datum": 19.85}
 }},
{"transform": [{"filter": "datum.k=='l'"}],
 "mark": {"type": "text", "align": "right", "baseline": "alphabetic", "fontSize": 15, "lineBreak": "\n", "lineHeight": 21.7, "color": "black", "font": "Liberation Sans"},
 "encoding": {
  "x": {"datum": 29.2, "type": "quantitative", "title": "x₁"},
  "y": {"datum": 17.9, "type": "quantitative", "title": "x₂"},
  "text": {"field": "t", "type": "nominal"}
 }}
]}
}
